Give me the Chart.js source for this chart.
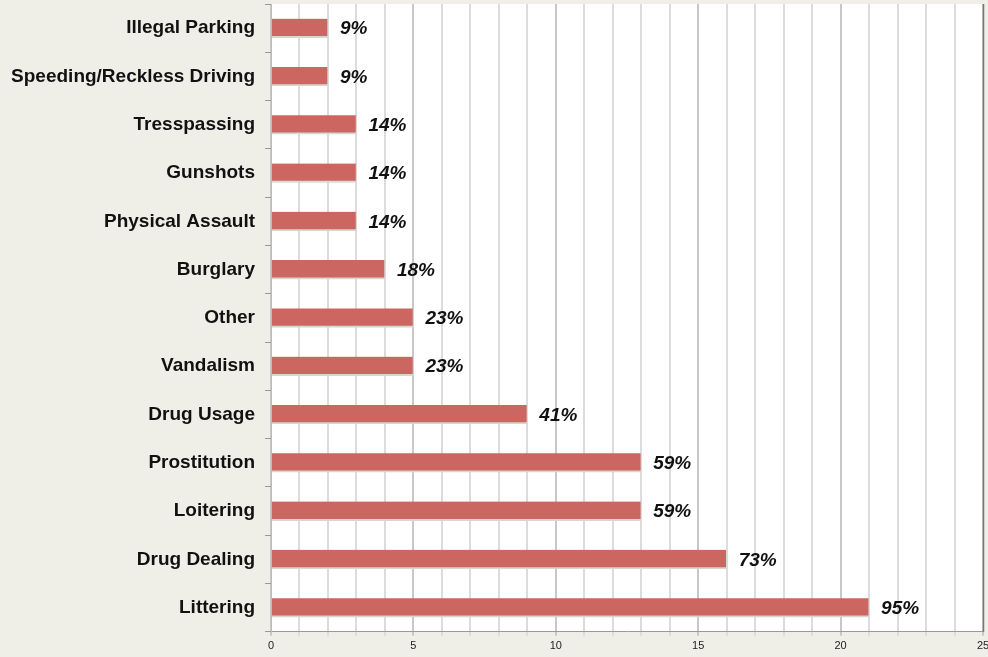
<!DOCTYPE html>
<html>
<head>
<meta charset="utf-8">
<script src="https://cdn.jsdelivr.net/npm/chart.js@4"></script>
<style>
  html, body { margin: 0; padding: 0; background: #f0efe7; }
  #wrap { position: relative; width: 988px; height: 657px; }
</style>
</head>
<body>
<div id="wrap"><canvas id="chart"></canvas></div>
<script>
// Chart data
const categories = ['Illegal Parking', 'Speeding/Reckless Driving', 'Tresspassing', 'Gunshots',
  'Physical Assault', 'Burglary', 'Other', 'Vandalism', 'Drug Usage', 'Prostitution',
  'Loitering', 'Drug Dealing', 'Littering']
const counts = [2, 2, 3, 3, 3, 4, 5, 5, 9, 13, 13, 16, 21]
const percentLabels = ['9%', '9%', '14%', '14%', '14%', '18%', '23%', '23%', '41%', '59%', '59%', '73%', '95%']
const xTickLabels = ['0', '5', '10', '15', '20', '25']

const fontFamily = '"Liberation Sans", Arial, Helvetica, sans-serif'

// White plot background + right frame line
const plotBackground = {
  id: 'plotBackground',
  beforeDraw(chart) {
    const { ctx, chartArea: a } = chart
    ctx.save()
    ctx.fillStyle = '#ffffff'
    ctx.fillRect(a.left, a.top, a.right - a.left, a.bottom - a.top)
    ctx.restore()
  },
  afterDraw(chart) {
    const { ctx, chartArea: a } = chart
    ctx.save()
    ctx.strokeStyle = '#777'
    ctx.lineWidth = 1.5
    ctx.beginPath()
    ctx.moveTo(a.right + 0.5, a.top)
    ctx.lineTo(a.right + 0.5, a.bottom)
    ctx.stroke()
    ctx.restore()
  }
}

// Percent labels at bar ends
const barLabels = {
  id: 'barLabels',
  afterDatasetsDraw(chart) {
    const { ctx } = chart
    const meta = chart.getDatasetMeta(0)
    ctx.save()
    ctx.font = 'italic bold 19px ' + fontFamily
    ctx.fillStyle = '#111'
    ctx.textBaseline = 'middle'
    ctx.textAlign = 'left'
    meta.data.forEach((bar, i) => {
      ctx.fillText(percentLabels[i], bar.x + 12, bar.y + 1)
    })
    ctx.restore()
  }
}

new Chart(document.getElementById('chart'), {
  type: 'bar',
  data: {
    labels: categories,
    datasets: [{
      data: counts,
      backgroundColor: '#cc6660',
      borderColor: '#d9d6d2',
      borderWidth: { top: 0, right: 1, bottom: 2, left: 0 },
      borderSkipped: 'left',
      barThickness: 19
    }]
  },
  options: {
    indexAxis: 'y',
    responsive: true,
    maintainAspectRatio: false,
    animation: false,
    layout: { padding: { top: 4, right: 5, left: 0, bottom: 0 } },
    plugins: {
      legend: { display: false },
      tooltip: { enabled: false }
    },
    scales: {
      x: {
        min: 0,
        max: 25,
        afterFit(scale) { scale.paddingRight = 0; scale.paddingLeft = 0 },
        ticks: {
          stepSize: 1,
          autoSkip: false,
          maxRotation: 0,
          color: '#222',
          font: { family: fontFamily, size: 11 },
          padding: 4,
          callback: (v) => (v % 5 === 0 ? xTickLabels[v / 5] : '')
        },
        grid: {
          color: (c) => (c.tick && c.tick.value % 5 === 0 ? '#c8c8c8' : '#dcdcdc'),
          lineWidth: 2,
          tickLength: 4
        },
        border: { color: '#999', width: 1 }
      },
      y: {
        afterFit(scale) { scale.width = 271; scale.paddingTop = 0; scale.paddingBottom = 0 },
        ticks: {
          color: '#111',
          font: { family: fontFamily, size: 19, weight: 'bold' },
          padding: 10
        },
        grid: {
          drawOnChartArea: false,
          offset: true,
          color: '#999',
          tickLength: 6
        },
        border: { color: '#bbb', width: 1 }
      }
    }
  },
  plugins: [plotBackground, barLabels]
})
</script>
</body>
</html>
